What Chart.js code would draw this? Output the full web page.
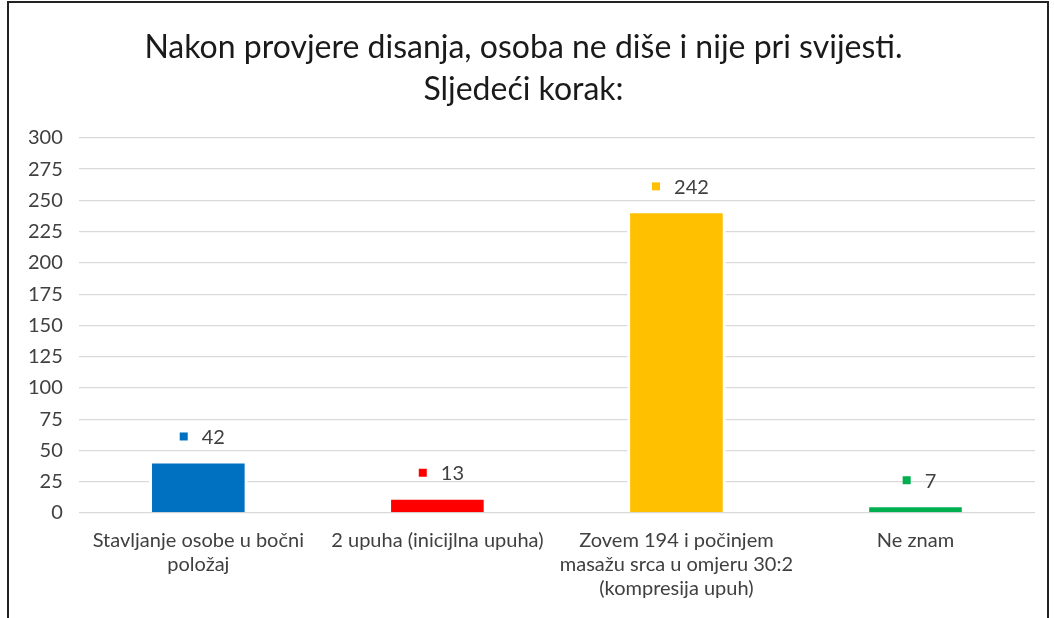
<!DOCTYPE html>
<html>
<head>
<meta charset="utf-8">
<script src="https://cdn.jsdelivr.net/npm/chart.js@4"></script>
<style>
  body { margin: 0; background: #fff; }
  #frame { position: absolute; left: 7px; top: 1px; width: 1038px; height: 640px;
           border: 2px solid #222; border-bottom: none; }
  #myChart { position: absolute; left: 0; top: 0; }
</style>
</head>
<body>
<div id="frame"></div>
<canvas id="myChart" width="1054" height="618"></canvas>
<script>
// data
const categories = [
  ['Stavljanje osobe u bočni', 'položaj'],
  ['2 upuha (inicijlna upuha)'],
  ['Zovem 194 i počinjem', 'masažu srca u omjeru 30:2', '(kompresija upuh)'],
  ['Ne znam']
];
const counts = [42, 13, 242, 7];
const barColors = ['#0070C0', '#FF0000', '#FFC000', '#00B050'];
const yTicks = { min: 0, max: 300, step: 25 };

const FONT = 'Lato, "Open Sans", sans-serif';

// square marker + value above each bar
const valueLabels = {
  id: 'valueLabels',
  afterDatasetsDraw(chart) {
    const { ctx } = chart;
    const meta = chart.getDatasetMeta(0);
    ctx.save();
    ctx.font = '20px ' + FONT;
    ctx.textBaseline = 'middle';
    ctx.textAlign = 'left';
    meta.data.forEach((bar, i) => {
      const txt = String(counts[i]);
      const tw = ctx.measureText(txt).width;
      const sq = 8, gap = 14;
      const total = sq + gap + tw;
      const left = bar.x + 4 - total / 2;
      const cy = bar.y - 24;
      ctx.fillStyle = barColors[i];
      ctx.fillRect(left, cy - sq / 2, sq, sq);
      ctx.fillStyle = '#404040';
      ctx.fillText(txt, left + sq + gap, cy + 1);
    });
    ctx.restore();
  }
};

const config = {
  type: 'bar',
  data: {
    labels: categories,
    datasets: [{
      data: counts,
      backgroundColor: barColors,
      borderColor: '#ffffff',
      borderWidth: 3,
      borderSkipped: 'start',
      categoryPercentage: 1,
      barPercentage: 0.4125
    }]
  },
  options: {
    responsive: false,
    animation: false,
    layout: { padding: { top: 27, left: 12, right: 19, bottom: 1 } },
    plugins: {
      legend: { display: false },
      tooltip: { enabled: false },
      title: {
        display: true,
        text: ['Nakon provjere disanja, osoba ne diše i nije pri svijesti.', 'Sljedeći korak:'],
        color: '#1a1a1a',
        font: { family: FONT, size: 32, weight: 'normal', lineHeight: 1.31 },
        padding: { top: 0, bottom: 27 }
      }
    },
    scales: {
      x: {
        grid: { display: false, drawTicks: false },
        border: { display: false },
        ticks: {
          autoSkip: false, maxRotation: 0, padding: 16,
          color: '#404040',
          font: { family: FONT, size: 20, lineHeight: 1.2 }
        }
      },
      y: {
        min: yTicks.min,
        max: yTicks.max,
        grid: { color: '#d9d9d9', lineWidth: 1.3, drawTicks: false },
        border: { display: false },
        ticks: {
          stepSize: yTicks.step, padding: 16,
          color: '#404040',
          font: { family: FONT, size: 20 }
        }
      }
    }
  },
  plugins: [valueLabels]
};

const myChart = new Chart(document.getElementById('myChart'), config);
</script>
</body>
</html>
